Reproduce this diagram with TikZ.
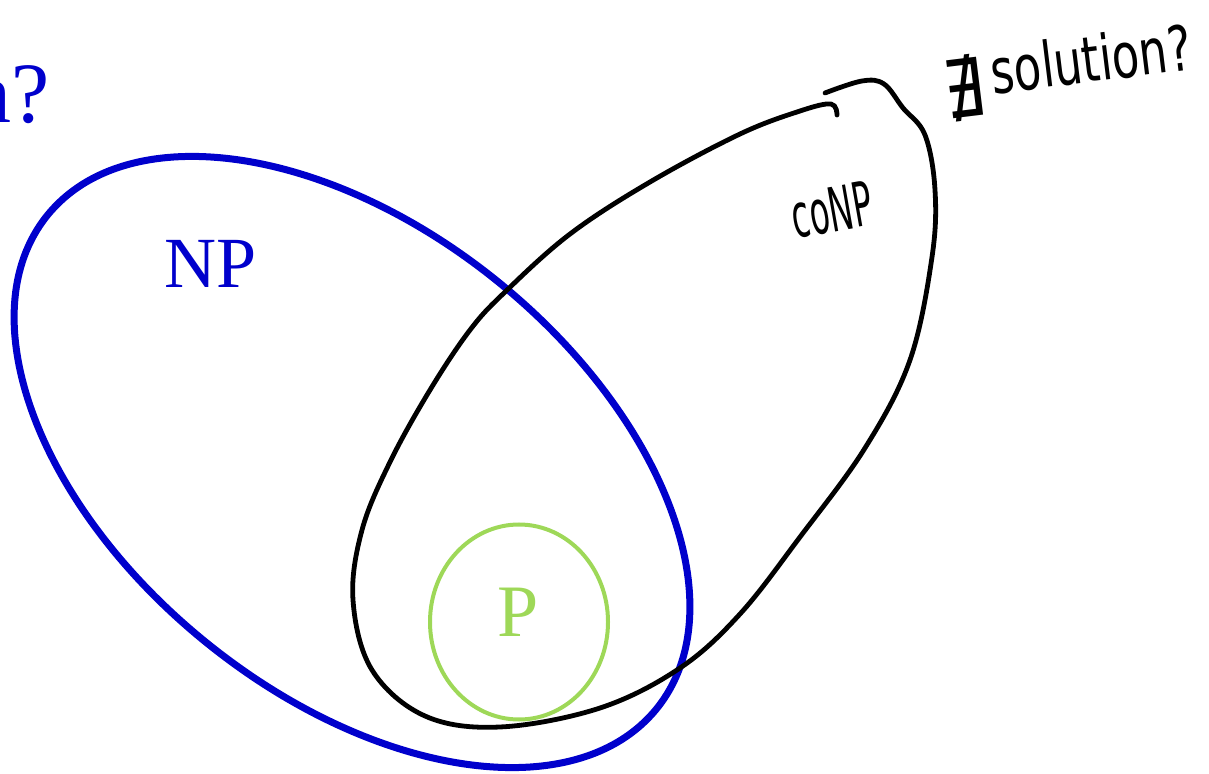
\documentclass[tikz,border=0pt]{standalone}
\usepackage{fontspec}
\setmainfont{Liberation Serif}
\newfontfamily\handfont{DejaVu Sans}
\newfontfamily\handcond{DejaVu Sans Condensed}
\definecolor{npblue}{RGB}{0,0,204}
\definecolor{pgreen}{RGB}{158,216,88}
\begin{document}
\begin{tikzpicture}[x=0.5pt,y=-0.5pt,
  serifl/.style={inner sep=0pt, font=\fontsize{36}{40}\selectfont},
  hand/.style={inner sep=0pt, text=black}]
\useasboundingbox (0,0) rectangle (1209,774);
% NP set
\draw[npblue, line width=3.5pt, rotate around={-39:(352,462)}] (352,462) ellipse [x radius=196pt, y radius=116pt];
% P set
\draw[pgreen, line width=2pt] (519,622) ellipse [x radius=44.5pt, y radius=48.75pt];
% coNP set (hand drawn)
\draw[black, line width=2.4pt, line cap=round, line join=round] plot[smooth, tension=0.6] coordinates {
 (825,93) (862,81) (884,84) (903,108) (925,135) (935,190) (932,257)
 (910,360) (865,448) (800,537) (740,614) (680,668) (600,708) (500,727)
 (425,716) (372,670) (353,600) (362,530) (390,462) (430,390) (470,330)
 (505,292) (570,234) (650,182) (740,134) (800,111) (831,104) (837,115)};
% labels
\node[serifl, text=npblue] (np) at (211,264) {NP};
\node[serifl, text=pgreen, font=\fontsize{37}{40}\selectfont] (p) at (518,612) {P};
\node[inner sep=0pt, anchor=base east, text=npblue, font=\fontsize{43}{46}\selectfont] (nq) at (50,123) {n?};
\node[hand, rotate=10, font=\handcond\fontsize{18}{22}\selectfont, yscale=1.7] (conp) at (832,210) {coNP};
\node[hand, rotate=7, font=\handcond\fontsize{25}{28}\selectfont, yscale=1.25, anchor=base west] (nosol) at (945,100) {\raisebox{-8pt}{\handfont\fontsize{32}{32}\selectfont ∄}\hspace{4pt}solution?};
\end{tikzpicture}
\end{document}
